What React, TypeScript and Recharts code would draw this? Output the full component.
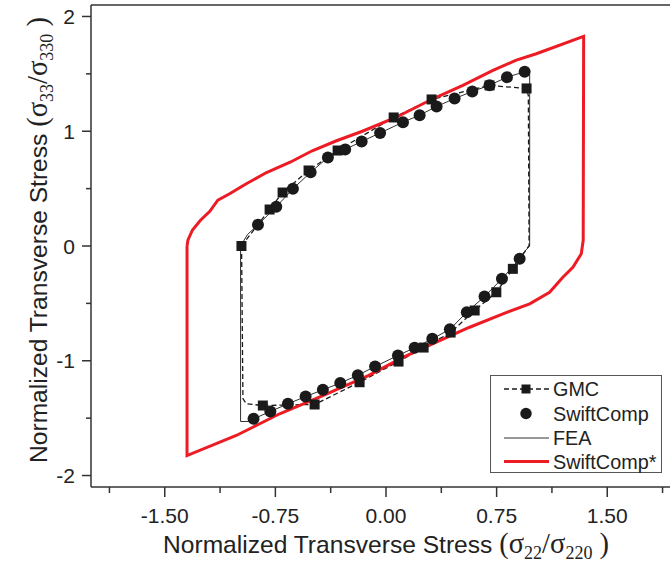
import React from 'react';
import { ComposedChart, Line, Scatter, XAxis, YAxis, ReferenceLine, Legend } from 'recharts';

// ---- axis ticks ----
const xTicks = [-1.875, -1.5, -1.125, -0.75, -0.375, 0, 0.375, 0.75, 1.125, 1.5, 1.875];
const xMajor = [-1.5, -0.75, 0, 0.75, 1.5];
const yTicks = [-2, -1.5, -1, -0.5, 0, 0.5, 1, 1.5, 2];
const yMajor = [-2, -1, 0, 1, 2];

// ---- SwiftComp* (red loop) ----
const swiftCompStar = [
  { x: -1.349, y: 0.0 }, { x: -1.343, y: 0.05 }, { x: -1.312, y: 0.14 }, { x: -1.258, y: 0.225 },
  { x: -1.196, y: 0.3 }, { x: -1.14, y: 0.4 }, { x: -1.06, y: 0.455 }, { x: -0.95, y: 0.54 },
  { x: -0.81, y: 0.64 }, { x: -0.65, y: 0.73 }, { x: -0.5, y: 0.83 }, { x: -0.34, y: 0.915 },
  { x: -0.16, y: 1.0 }, { x: 0.07, y: 1.122 }, { x: 0.318, y: 1.283 }, { x: 0.521, y: 1.399 },
  { x: 0.725, y: 1.53 }, { x: 0.879, y: 1.617 }, { x: 1.019, y: 1.675 }, { x: 1.34, y: 1.826 },
  { x: 1.337, y: 0.05 }, { x: 1.324, y: -0.068 }, { x: 1.267, y: -0.185 }, { x: 1.199, y: -0.272 },
  { x: 1.109, y: -0.403 }, { x: 0.974, y: -0.504 }, { x: 0.793, y: -0.591 }, { x: 0.567, y: -0.708 },
  { x: 0.341, y: -0.838 }, { x: 0.115, y: -0.97 }, { x: -0.12, y: -1.13 }, { x: -0.428, y: -1.303 },
  { x: -0.721, y: -1.462 }, { x: -1.015, y: -1.651 }, { x: -1.349, y: -1.826 }, { x: -1.349, y: 0.0 },
];

// ---- GMC (dashed path + square markers) ----
const gmcPath = [
  { x: -0.98, y: 0.0 }, { x: -0.789, y: 0.318 }, { x: -0.701, y: 0.466 }, { x: -0.525, y: 0.658 },
  { x: -0.328, y: 0.832 }, { x: 0.052, y: 1.12 }, { x: 0.309, y: 1.277 }, { x: 0.702, y: 1.399 },
  { x: 0.953, y: 1.373 }, { x: 0.965, y: 1.31 }, { x: 0.97, y: 0.004 }, { x: 0.86, y: -0.199 },
  { x: 0.748, y: -0.403 }, { x: 0.601, y: -0.562 }, { x: 0.438, y: -0.754 }, { x: 0.255, y: -0.885 },
  { x: 0.085, y: -1.007 }, { x: -0.179, y: -1.187 }, { x: -0.484, y: -1.381 }, { x: -0.835, y: -1.39 },
  { x: -0.947, y: -1.375 }, { x: -0.97, y: -1.329 }, { x: -0.979, y: -0.039 }, { x: -0.98, y: 0.0 },
];
const gmcSquares = [
  { x: -0.98, y: 0.0 }, { x: -0.789, y: 0.318 }, { x: -0.701, y: 0.466 }, { x: -0.525, y: 0.658 },
  { x: -0.328, y: 0.832 }, { x: 0.052, y: 1.12 }, { x: 0.309, y: 1.277 }, { x: 0.702, y: 1.399 },
  { x: 0.953, y: 1.373 }, { x: 0.86, y: -0.199 }, { x: 0.748, y: -0.403 }, { x: 0.601, y: -0.562 },
  { x: 0.438, y: -0.754 }, { x: 0.255, y: -0.885 }, { x: 0.085, y: -1.007 }, { x: -0.179, y: -1.187 },
  { x: -0.484, y: -1.381 }, { x: -0.835, y: -1.39 },
];

// ---- SwiftComp (circles) ----
const swiftCompCircles = [
  { x: -0.868, y: 0.185 }, { x: -0.744, y: 0.342 }, { x: -0.631, y: 0.498 }, { x: -0.511, y: 0.643 },
  { x: -0.394, y: 0.771 }, { x: -0.277, y: 0.841 }, { x: -0.165, y: 0.911 }, { x: -0.04, y: 0.985 },
  { x: 0.115, y: 1.079 }, { x: 0.228, y: 1.14 }, { x: 0.343, y: 1.216 }, { x: 0.465, y: 1.285 },
  { x: 0.585, y: 1.346 }, { x: 0.702, y: 1.401 }, { x: 0.82, y: 1.471 }, { x: 0.94, y: 1.518 },
  { x: 0.906, y: -0.112 }, { x: 0.786, y: -0.286 }, { x: 0.668, y: -0.44 }, { x: 0.548, y: -0.577 },
  { x: 0.433, y: -0.726 }, { x: 0.314, y: -0.809 }, { x: 0.194, y: -0.887 }, { x: 0.081, y: -0.954 },
  { x: -0.074, y: -1.05 }, { x: -0.191, y: -1.126 }, { x: -0.31, y: -1.194 }, { x: -0.428, y: -1.253 },
  { x: -0.545, y: -1.312 }, { x: -0.665, y: -1.375 }, { x: -0.784, y: -1.442 }, { x: -0.898, y: -1.506 },
];

// ---- FEA (thin solid path) ----
const feaPath = [
  { x: -0.986, y: -1.529 }, { x: -0.986, y: 0.0 }, { x: -0.939, y: 0.1 }, { x: -0.868, y: 0.185 },
  { x: -0.744, y: 0.342 }, { x: -0.631, y: 0.498 }, { x: -0.511, y: 0.643 }, { x: -0.394, y: 0.771 },
  { x: -0.277, y: 0.841 }, { x: -0.165, y: 0.911 }, { x: -0.04, y: 0.985 }, { x: 0.115, y: 1.079 },
  { x: 0.228, y: 1.14 }, { x: 0.343, y: 1.216 }, { x: 0.465, y: 1.285 }, { x: 0.585, y: 1.346 },
  { x: 0.702, y: 1.401 }, { x: 0.82, y: 1.471 }, { x: 0.94, y: 1.518 }, { x: 0.974, y: 1.494 },
  { x: 0.974, y: 0.0 }, { x: 0.933, y: -0.057 }, { x: 0.906, y: -0.112 }, { x: 0.786, y: -0.286 },
  { x: 0.668, y: -0.44 }, { x: 0.548, y: -0.577 }, { x: 0.433, y: -0.726 }, { x: 0.314, y: -0.809 },
  { x: 0.194, y: -0.887 }, { x: 0.081, y: -0.954 }, { x: -0.074, y: -1.05 }, { x: -0.191, y: -1.126 },
  { x: -0.31, y: -1.194 }, { x: -0.428, y: -1.253 }, { x: -0.545, y: -1.312 }, { x: -0.665, y: -1.375 },
  { x: -0.784, y: -1.442 }, { x: -0.898, y: -1.506 }, { x: -0.932, y: -1.529 }, { x: -0.986, y: -1.529 },
];

const legendNames = ['GMC', 'SwiftComp', 'FEA', 'SwiftComp*'];

const INK = '#1a1a1a';
const RED = '#ed1c24';
const AXIS = '#333';
const SANS = '"Liberation Sans", Arial, sans-serif';
const SERIF = '"Liberation Serif", "Times New Roman", serif';

const XTick = (props: any) => {
  const { x, y, payload } = props;
  const major = xMajor.includes(payload.value);
  return (
    <g>
      <line x1={x} y1={y} x2={x} y2={y + (major ? 10 : 6)} stroke={AXIS} strokeWidth={1.5} />
      {major && (
        <text x={x} y={y + 36} textAnchor="middle" fontSize={21} fontFamily={SANS} fill="#222">
          {payload.value.toFixed(2)}
        </text>
      )}
    </g>
  );
};

const YTick = (props: any) => {
  const { x, y, payload } = props;
  const major = yMajor.includes(payload.value);
  return (
    <g>
      <line x1={x - (major ? 9 : 5)} y1={y} x2={x} y2={y} stroke={AXIS} strokeWidth={1.5} />
      {major && (
        <text x={x - 16} y={y + 7.5} textAnchor="end" fontSize={21} fontFamily={SANS} fill="#222">
          {String(payload.value)}
        </text>
      )}
    </g>
  );
};

const Title = ({ a, b }: { a: string; b: string }) => (
  <>
    <tspan fontFamily={SANS} fontSize={24.6}>Normalized Transverse Stress </tspan>
    <tspan fontFamily={SERIF} fontSize={28.5}>(σ</tspan>
    <tspan fontFamily={SERIF} fontSize={18} dy={6}>{a}</tspan>
    <tspan fontFamily={SERIF} fontSize={28.5} dy={-6}>/σ</tspan>
    <tspan fontFamily={SERIF} fontSize={18} dy={6}>{b}</tspan>
    <tspan fontFamily={SERIF} fontSize={28.5} dy={-6}> )</tspan>
  </>
);

const XTitle = (props: any) => {
  const vb = props.viewBox || { x: 91, y: 487, width: 590, height: 76 };
  const cx = vb.x + vb.width / 2;
  return (
    <text x={cx} y={vb.y + 66} textAnchor="middle" fill="#222">
      <Title a="22" b="220" />
    </text>
  );
};

const YTitle = (props: any) => {
  const vb = props.viewBox || { x: 0, y: 5, width: 91, height: 482 };
  const cx = vb.x + 47;
  const cy = vb.y + vb.height / 2 - 6;
  return (
    <text x={cx} y={cy} textAnchor="middle" fill="#222" transform={`rotate(-90, ${cx}, ${cy})`}>
      <Title a="33" b="330" />
    </text>
  );
};

const SquareShape = (p: any) => <rect x={p.cx - 5} y={p.cy - 5} width={10} height={10} fill={INK} />;
const CircleShape = (p: any) => <circle cx={p.cx} cy={p.cy} r={6} fill={INK} />;

const LegendBox = () => {
  const rows = [14, 38.5, 63, 86.5];
  return (
    <svg width={173} height={98} style={{ display: 'block' }}>
      <rect x={0.5} y={0.5} width={171} height={97} fill="#fff" stroke="#555" strokeWidth={1} />
      {/* GMC */}
      <line x1={14} y1={rows[0]} x2={59} y2={rows[0]} stroke={INK} strokeWidth={1.3} strokeDasharray="5 3" />
      <rect x={31.5} y={rows[0] - 4.5} width={9} height={9} fill={INK} />
      {/* SwiftComp */}
      <circle cx={36} cy={rows[1]} r={5.7} fill={INK} />
      {/* FEA */}
      <line x1={14} y1={rows[2]} x2={59} y2={rows[2]} stroke={INK} strokeWidth={0.9} />
      {/* SwiftComp* */}
      <line x1={14} y1={rows[3]} x2={59} y2={rows[3]} stroke={RED} strokeWidth={3} />
      {legendNames.map((n, i) => (
        <text key={n} x={63} y={rows[i] + 7} fontSize={19.8} fontFamily={SANS} fill="#222">
          {n}
        </text>
      ))}
    </svg>
  );
};

export default function App() {
  return (
    <div
      style={{
        position: 'absolute', left: 0, top: 0, width: 670, height: 563,
        overflow: 'hidden', background: '#fff', fontFamily: SANS,
      }}
    >
      <ComposedChart width={690} height={563} margin={{ top: 5, right: 9, bottom: 0, left: 0 }}>
        <XAxis
          type="number" dataKey="x" domain={[-2, 2]} ticks={xTicks} interval={0} allowDataOverflow
          tickSize={0} tickMargin={0} tickLine={false} tick={<XTick />}
          axisLine={{ stroke: AXIS, strokeWidth: 1.5 }} height={76} label={<XTitle />}
        />
        <YAxis
          type="number" dataKey="y" domain={[-2.1, 2.1]} ticks={yTicks} interval={0} allowDataOverflow
          tickSize={0} tickMargin={0} tickLine={false} tick={<YTick />}
          axisLine={{ stroke: AXIS, strokeWidth: 1.5 }} width={91} label={<YTitle />}
        />
        <ReferenceLine y={2.1} stroke={AXIS} strokeWidth={1.5} />
        <ReferenceLine x={2} stroke={AXIS} strokeWidth={1.5} />
        <Line data={feaPath} dataKey="y" type="linear" stroke={INK} strokeWidth={0.9} dot={false} isAnimationActive={false} legendType="none" />
        <Line data={gmcPath} dataKey="y" type="linear" stroke={INK} strokeWidth={1.3} strokeDasharray="5 3" dot={false} isAnimationActive={false} legendType="none" />
        <Scatter data={gmcSquares} dataKey="y" shape={SquareShape} isAnimationActive={false} legendType="none" />
        <Scatter data={swiftCompCircles} dataKey="y" shape={CircleShape} isAnimationActive={false} legendType="none" />
        <Line data={swiftCompStar} dataKey="y" type="linear" stroke={RED} strokeWidth={3} dot={false} isAnimationActive={false} legendType="none" />
        <Legend
          layout="horizontal" verticalAlign="middle" align="center"
          content={() => <LegendBox />}
          wrapperStyle={{ left: 490, top: 375, width: 173, height: 98 }}
        />
      </ComposedChart>
    </div>
  );
}
